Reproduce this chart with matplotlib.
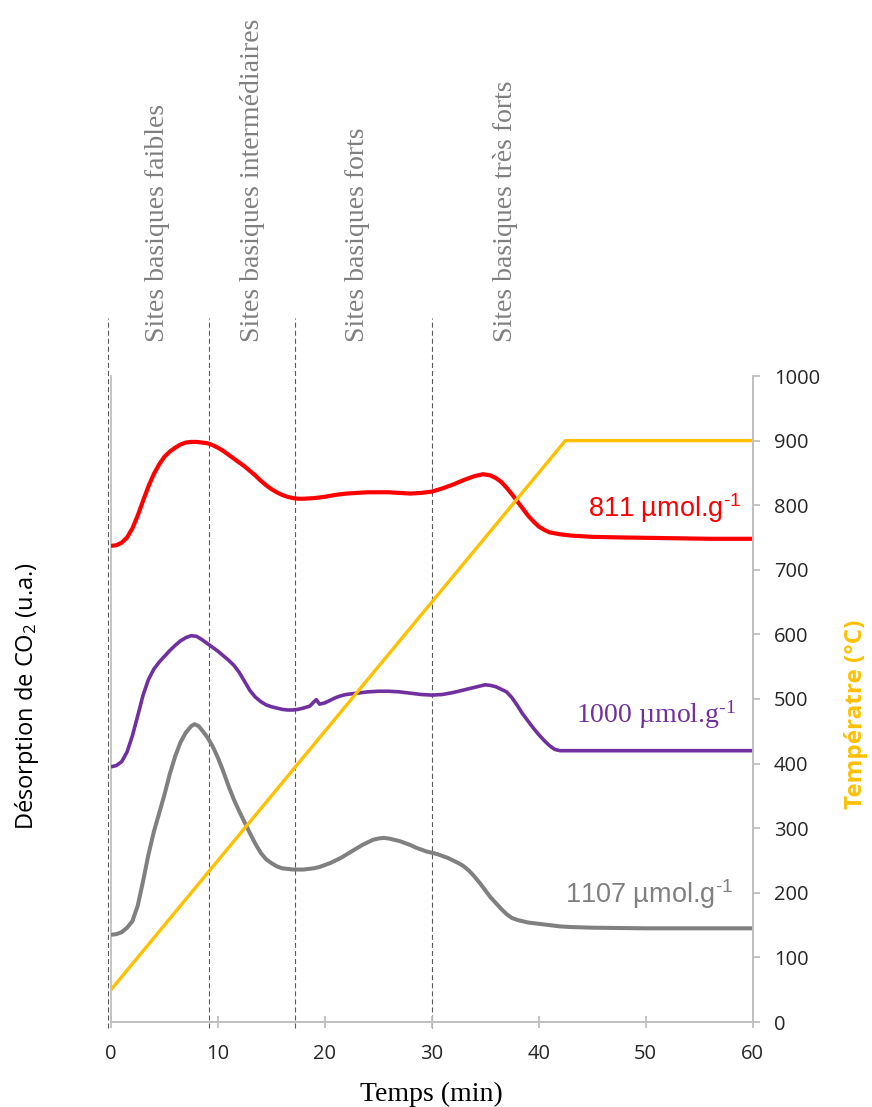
import matplotlib
matplotlib.use("Agg")
import matplotlib.pyplot as plt

# ---------------- data ----------------
red_t = [0, 0.5, 1.0, 1.5, 2.0, 2.5, 3.0, 3.5, 4.0, 4.5, 5.0, 5.5, 6.0, 6.5, 7.0, 7.5, 8.0,
         8.5, 9.0, 9.5, 10.0, 10.5, 11.0, 11.5, 12.0, 12.5, 13.0, 13.5, 14.0, 14.5, 15.0,
         15.5, 16.0, 16.5, 17.0, 17.5, 18.0, 19.0, 20.0, 21.0, 22.0, 23.0, 24.0, 25.0,
         26.0, 27.0, 28.0, 29.0, 30.0, 31.0, 32.0, 33.0, 34.0, 34.8, 35.5, 36.0, 36.5,
         37.0, 37.5, 38.0, 38.5, 39.0, 39.5, 40.0, 40.5, 41.0, 42.0, 43.0, 45.0, 48.0,
         52.0, 56.0, 60]
red_v = [737, 738, 742, 750, 764, 784, 807, 829, 848, 863, 875, 883, 889, 894, 897, 898, 898,
         897, 896, 893, 889, 884, 878, 872, 866, 860, 853, 846, 838, 831, 825,
         820, 816, 813, 811, 810, 810, 811, 813, 816, 818, 819, 820, 820,
         820, 819, 818, 819, 821, 826, 832, 839, 845, 848, 846, 842, 836,
         827, 817, 806, 795, 784, 775, 767, 762, 758, 755, 753, 751, 750,
         749, 748, 748]

purple_t = [0, 0.5, 1.0, 1.5, 2.0, 2.5, 3.0, 3.5, 4.0, 4.5, 5.0, 5.5, 6.0, 6.5, 7.0, 7.5,
            8.0, 8.5, 9.0, 9.5, 10.0, 10.5, 11.0, 11.5, 12.0, 12.5, 13.0, 13.5, 14.0, 14.5,
            15.0, 15.5, 16.0, 16.5, 17.0, 17.5, 18.0, 18.6, 19.0, 19.2, 19.5, 20.0, 20.5,
            21.0, 21.5, 22.0, 23.0, 24.0, 25.0, 26.0, 27.0, 28.0, 29.0, 30.0, 31.0, 32.0,
            33.0, 34.0, 35.0, 35.5, 36.0, 36.5, 37.0, 37.5, 38.0, 38.5, 39.0, 39.5, 40.0,
            40.5, 41.0, 41.5, 42.0, 60]
purple_v = [395, 397, 403, 418, 443, 474, 506, 530, 546, 557, 566, 575, 583, 590, 595, 598,
            597, 592, 586, 580, 574, 567, 560, 552, 541, 527, 513, 503, 496, 491,
            488, 486, 484, 483, 483, 484, 486, 489, 496, 499, 492, 494, 498,
            502, 505, 507, 509, 511, 512, 512, 511, 509, 507, 506, 507, 510,
            514, 518, 522, 521, 519, 515, 511, 502, 490, 477, 466, 455, 445,
            436, 428, 422, 420, 420]

gray_t = [0, 0.5, 1.0, 1.5, 2.0, 2.5, 3.0, 3.5, 4.0, 4.5, 5.0, 5.5, 6.0, 6.5, 7.0, 7.5, 7.8,
          8.2, 8.6, 9.0, 9.5, 10.0, 10.5, 11.0, 11.5, 12.0, 12.5, 13.0, 13.5, 14.0, 14.5,
          15.0, 15.5, 16.0, 16.5, 17.0, 17.5, 18.0, 18.5, 19.0, 19.5, 20.0, 20.5, 21.0,
          21.5, 22.0, 22.5, 23.0, 23.5, 24.0, 24.5, 25.0, 25.5, 26.0, 26.5, 27.0, 27.5,
          28.0, 28.5, 29.0, 29.5, 30.0, 30.5, 31.0, 31.5, 32.0, 32.5, 33.0, 33.5, 34.0,
          34.5, 35.0, 35.5, 36.0, 36.5, 37.0, 37.5, 38.0, 38.5, 39.0, 40.0, 41.0, 42.0,
          43.0, 45.0, 50.0, 55.0, 60]
gray_v = [135, 136, 139, 146, 156, 180, 218, 259, 294, 323, 352, 384, 411, 433, 448, 458, 461,
          458, 450, 441, 427, 409, 388, 365, 344, 326, 309, 292, 276, 262, 252,
          246, 241, 238, 237, 236, 236, 236, 237, 238, 240, 243, 246, 250,
          254, 259, 264, 269, 274, 278, 282, 284, 285, 284, 282, 280, 277,
          274, 270, 267, 264, 262, 260, 257, 254, 250, 246, 241, 234, 225,
          215, 204, 193, 184, 175, 167, 161, 158, 156, 154, 152, 150, 148,
          147, 146, 145, 145, 145]

temp_t = [0, 42.5, 60]
temp_v = [50, 900, 900]

zone_bounds = [-0.25, 9.2, 17.25, 30.0]
zone_labels = ["Sites basiques faibles", "Sites basiques intermédiaires",
               "Sites basiques forts", "Sites basiques très forts"]
zone_label_x = [4.35, 13.2, 23.1, 36.9]

SUP = "$\\mathregular{^{\u20101}}$"
series_labels = ["811 µmol.g" + SUP, "1000 µmol.g" + SUP, "1107 µmol.g" + SUP]
x_ticks = [0, 10, 20, 30, 40, 50, 60]
y_ticks = [0, 100, 200, 300, 400, 500, 600, 700, 800, 900, 1000]

# ---------------- style ----------------
RED = "#FF0000"
PURPLE = "#7030A0"
GRAY = "#808080"
YELLOW = "#FFC000"
AXIS = "#BFBFBF"
TXT = "#262626"
SANS = ["Open Sans", "DejaVu Sans"]
SERIF = ["Liberation Serif", "DejaVu Serif"]
ARIAL = ["Liberation Sans", "DejaVu Sans"]

plt.rcParams["lines.scale_dashes"] = False

fig = plt.figure(figsize=(8.72, 11.07), dpi=100)
ax = fig.add_axes([111 / 872, 1 - 1022 / 1107, (752.5 - 111) / 872, (1022 - 376) / 1107])
ax2 = ax.twinx()

ax.set_xlim(0, 60)
ax.set_ylim(0, 1000)
ax2.set_ylim(0, 1000)

# desorption curves
for tt, vv, cc, lw in ((red_t, red_v, RED, 3.0), (purple_t, purple_v, PURPLE, 2.6),
                       (gray_t, gray_v, GRAY, 2.9)):
    ax.plot(tt, vv, color=cc, lw=lw, solid_capstyle="butt", solid_joinstyle="round",
            zorder=3)

# temperature
ax2.plot(temp_t, temp_v, color=YELLOW, lw=2.4, solid_capstyle="butt", zorder=2)

# zone boundaries (extend above the plot)
for xb in zone_bounds:
    ax.plot([xb, xb], [-10, 1090], color="#595959", lw=0.8, dashes=(3.6, 2.2),
            clip_on=False, zorder=1)

for xl, lab in zip(zone_label_x, zone_labels):
    ax.text(xl, 1053, lab, rotation=90, rotation_mode="anchor", ha="left", va="center",
            color="#7F7F7F", fontsize=20, family=SERIF, clip_on=False)

# series labels
ax.text(58.9, 782, series_labels[0], color=RED, fontsize=19.5, family=ARIAL,
        ha="right", va="baseline")
ax.text(58.4, 463, series_labels[1], color=PURPLE, fontsize=20, family=SERIF,
        ha="right", va="baseline")
ax.text(58.2, 184, series_labels[2], color=GRAY, fontsize=19.5, family=ARIAL,
        ha="right", va="baseline")

# axes styling
for a in (ax, ax2):
    a.spines["top"].set_visible(False)
    for s in ("left", "right", "bottom"):
        a.spines[s].set_color(AXIS)
        a.spines[s].set_linewidth(1.3)

ax.set_yticks([])
ax.set_xticks(x_ticks)
ax.tick_params(axis="x", direction="inout", length=9, width=1.3, color=AXIS,
               labelcolor=TXT, labelsize=14.5, pad=11.5)
for lbl in ax.get_xticklabels():
    lbl.set_family(SANS)

ax2.set_yticks(y_ticks)
ax2.tick_params(axis="y", direction="out", length=5, width=1.3, color=AXIS,
                labelcolor=TXT, labelsize=14.5, pad=10.5)
for lbl in ax2.get_yticklabels():
    lbl.set_family(SANS)
ax2.spines["left"].set_visible(False)

# axis titles
ax.text(0.5, -0.112, "Temps (min)", transform=ax.transAxes, ha="center", va="center",
        fontsize=20, family=SERIF, color="black")
ax.text(-0.131, 0.505, "Désorption de CO$\\mathregular{_2}$ (u.a.)", transform=ax.transAxes,
        rotation=90, ha="center", va="center", fontsize=17, family=SANS, color="black")
ax.text(1.162, 0.477, "Températre (°C)", transform=ax.transAxes, rotation=90,
        ha="center", va="center", fontsize=17.5, family=SANS, color=YELLOW,
        fontweight="bold")

fig.savefig("out.png", dpi=100)
